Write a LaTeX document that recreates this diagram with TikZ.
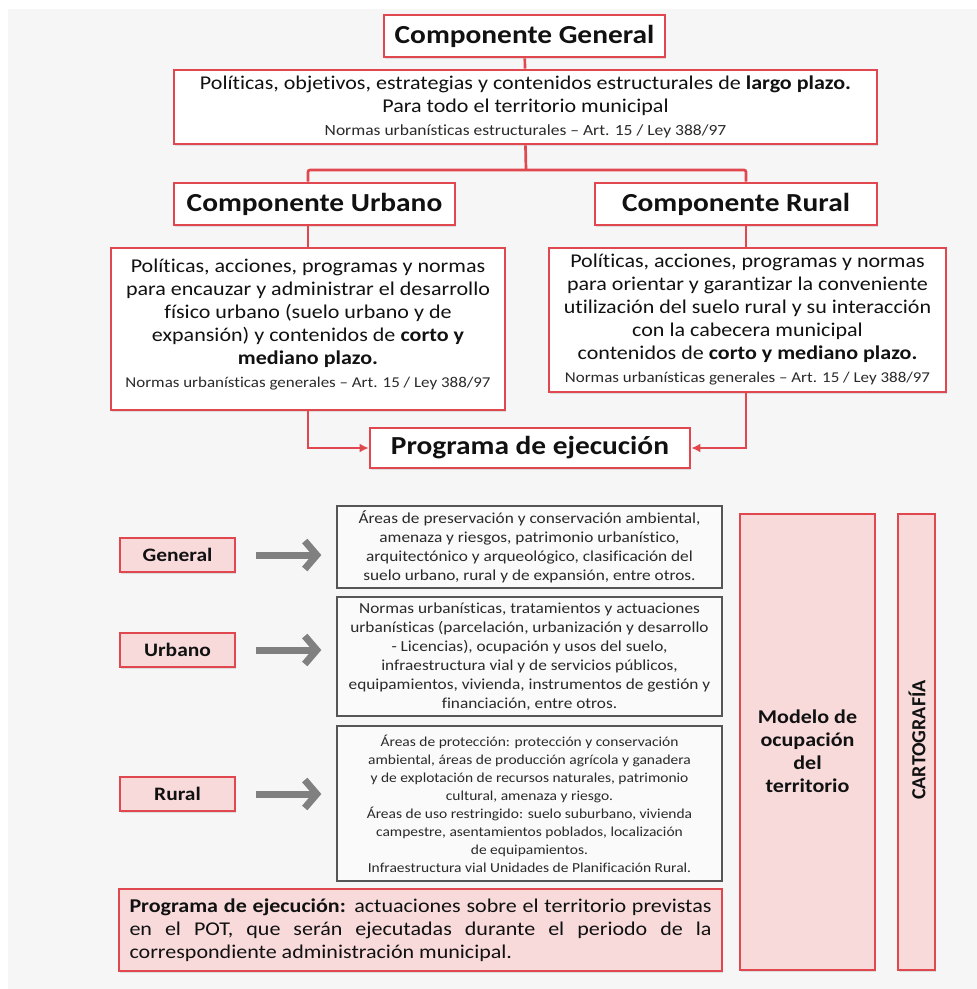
\documentclass[tikz,border=0pt]{standalone}
\usepackage{fontspec}
\setmainfont[FakeStretch=1.13, Ligatures=CommonOff]{Carlito}
\newfontfamily\uprightfont[Ligatures=CommonOff]{Carlito}
\usetikzlibrary{arrows.meta,shadows}
\definecolor{redc}{HTML}{E0474E}
\definecolor{pinkc}{HTML}{F8DADB}
\definecolor{bgc}{HTML}{F6F6F6}
\definecolor{boxedge}{HTML}{555555}
\definecolor{arrowgray}{HTML}{808080}
\definecolor{txt}{HTML}{111111}
\definecolor{txtsoft}{HTML}{2A2A2A}
\newcommand{\notefont}{\fontsize{15}{17}\selectfont\color{txtsoft}}
\begin{document}
\begin{tikzpicture}[x=1pt,y=-1pt,
  softshadow/.style={drop shadow={shadow xshift=1.2pt,shadow yshift=-1.5pt,opacity=0.22}},
  redbox/.style={draw=redc, line width=2.7pt, fill=white, inner sep=0pt, softshadow},
  pinkbox/.style={redbox, fill=pinkc},
  graybox/.style={draw=boxedge, line width=1.3pt, fill=bgc!60!white, inner sep=0pt,
    align=center, text=txtsoft, font=\fontsize{15.3}{19}\selectfont},
  heading/.style={redbox, text=txt, font=\fontsize{26}{30}\selectfont\bfseries},
  body/.style={align=center, inner sep=0pt, text=txt, font=\fontsize{19.5}{23}\selectfont},
  tag/.style={pinkbox, text=txt, minimum width=115pt, minimum height=34pt,
    font=\fontsize{19}{23}\selectfont\bfseries},
  link/.style={draw=redc, line width=2.7pt},
  linkarrow/.style={link, -{Latex[length=9pt,width=9pt]}},
  bigarrow/.style={draw=arrowgray, line width=7pt, -{Straight Barb[length=12pt,width=28pt]}}
]
\useasboundingbox (0,0) rectangle (977,989);
\fill[bgc] (8,9) rectangle (977,989);

% ---------- upper chart ----------
\node[heading, minimum width=281pt, minimum height=42pt] (cg) at (524.5,36) {Componente General};
\node[redbox, body, minimum width=703pt, minimum height=74pt] (pg) at (525.5,107)
  {Políticas, objetivos, estrategias y contenidos estructurales de \textbf{largo plazo.}\\
   Para todo el territorio municipal\\
   {\fontsize{15.5}{17}\selectfont\color{txtsoft}Normas urbanísticas estructurales – Art. 15 / Ley 388/97}};

\coordinate (bus) at (526,170);
\coordinate (ux) at (308,0);
\coordinate (rx) at (746,0);

\node[heading, minimum width=281pt, minimum height=42pt] (cu) at (314.5,204) {Componente Urbano};
\node[heading, minimum width=282pt, minimum height=42pt] (cr) at (736,204) {Componente Rural};

\node[redbox, minimum width=394pt, minimum height=162pt] (ud) at (308,329) {};
\node[body, anchor=north] (udtext) at (308,259)
  {Políticas, acciones, programas y normas\\
   para encauzar y administrar el desarrollo\\
   físico urbano (suelo urbano y de\\
   expansión) y contenidos de \textbf{corto y}\\
   \textbf{mediano plazo.}\\
   {\notefont Normas urbanísticas generales – Art. 15 / Ley 388/97}};

\node[redbox, body, minimum width=397pt, minimum height=144pt] (rd) at (747.5,320)
  {Políticas, acciones, programas y normas\\
   para orientar y garantizar la conveniente\\
   utilización del suelo rural y su interacción\\
   con la cabecera municipal\\
   contenidos de \textbf{corto y mediano plazo.}\\
   {\notefont Normas urbanísticas generales – Art. 15 / Ley 388/97}};

\node[heading, minimum width=320pt, minimum height=40pt] (pe) at (530,448) {Programa de ejecución};

% connectors
\draw[link] (cg) -- (pg);
\draw[link] (pg.south) -- (bus);
\draw[link, rounded corners=2pt] (cu.north -| ux) |- (bus) -| (cr.north -| rx);
\draw[link] (cu.south -| ux) -- (ud.north -| ux);
\draw[link] (cr.south -| rx) -- (rd.north -| rx);
\draw[linkarrow] (ud.south -| ux) |- (pe.west);
\draw[linkarrow] (rd.south -| rx) |- (pe.east);

% ---------- lower panel ----------
\node[tag] (lgen) at (177.5,555) {General};
\node[tag] (lurb) at (177.5,650) {Urbano};
\node[tag] (lrur) at (177.5,794) {Rural};

\node[graybox, minimum width=385pt, minimum height=82pt] (b1) at (529.5,547)
  {Áreas de preservación y conservación ambiental,\\
   amenaza y riesgos, patrimonio urbanístico,\\
   arquitectónico y arqueológico, clasificación del\\
   suelo urbano, rural y de expansión, entre otros.};
\node[graybox, minimum width=385pt, minimum height=119pt] (b2) at (529.5,656.5)
  {Normas urbanísticas, tratamientos y actuaciones\\
   urbanísticas (parcelación, urbanización y desarrollo\\
   - Licencias), ocupación y usos del suelo,\\
   infraestructura vial y de servicios públicos,\\
   equipamientos, vivienda, instrumentos de gestión y\\
   financiación, entre otros.};
\node[graybox, minimum width=385pt, minimum height=155pt, font=\fontsize{13.7}{18}\selectfont] (b3) at (529.5,803.5)
  {Áreas de protección: protección y conservación\\
   ambiental, áreas de producción agrícola y ganadera\\
   y de explotación de recursos naturales, patrimonio\\
   cultural, amenaza y riesgo.\\
   Áreas de uso restringido: suelo suburbano, vivienda\\
   campestre, asentamientos poblados, localización\\
   de equipamientos.\\
   Infraestructura vial Unidades de Planificación Rural.};

\draw[bigarrow, shorten <=20pt, shorten >=15pt] (lgen.east) -- (lgen.east -| b1.west);
\draw[bigarrow, shorten <=20pt, shorten >=15pt] (lurb.east) -- (lurb.east -| b2.west);
\draw[bigarrow, shorten <=20pt, shorten >=15pt] (lrur.east) -- (lrur.east -| b3.west);

\node[pinkbox, minimum width=603pt, minimum height=82pt, text width=582pt, align=justify,
      text=txt, font=\fontsize{19.5}{23}\selectfont] (pex) at (420.5,930)
  {\textbf{Programa de ejecución:} actuaciones sobre el territorio previstas\linebreak
   en el POT, que serán ejecutadas durante el periodo de la\linebreak
   correspondiente administración municipal.};

\node[pinkbox, minimum width=135pt, minimum height=456pt] (mod) at (807.5,742) {};
\node[align=center, inner sep=0pt, text=txt, font=\fontsize{19.5}{23}\selectfont\bfseries] (modtxt) at (807.5,751)
  {Modelo de\\ocupación\\del\\territorio};
\node[pinkbox, minimum width=37pt, minimum height=456pt] (cart) at (916.5,742) {};
\node[rotate=90, inner sep=0pt, text=txt, font=\uprightfont\fontsize{20}{22}\selectfont\bfseries] (carttxt) at (917,740) {CARTOGRAFÍA};
\end{tikzpicture}
\end{document}
